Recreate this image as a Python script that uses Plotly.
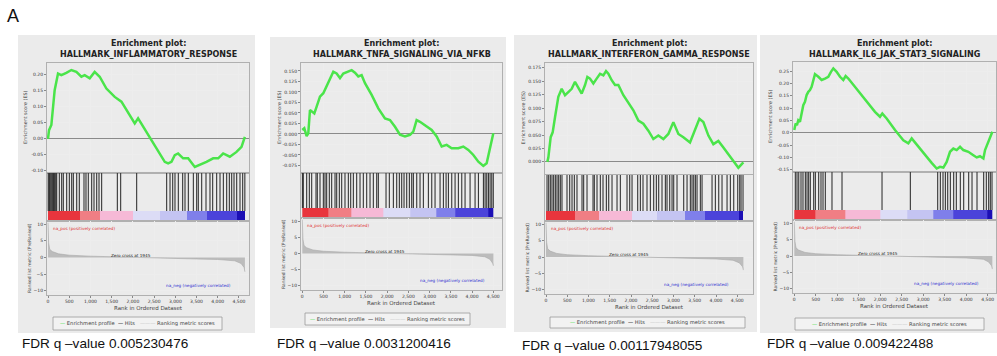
import plotly.graph_objects as go

W, H = 997, 356

# ---------------- data ----------------
panel_titles = ["HALLMARK_INFLAMMATORY_RESPONSE", "HALLMARK_TNFA_SIGNALING_VIA_NFKB",
                "HALLMARK_INTERFERON_GAMMA_RESPONSE", "HALLMARK_IL6_JAK_STAT3_SIGNALING"]
fdr_values = ["0.005230476", "0.0031200416", "0.00117948055", "0.009422488"]

x_ticks = [0, 500, 1000, 1500, 2000, 2500, 3000, 3500, 4000, 4500]
x_ticktext = ["0", "500", "1,000", "1,500", "2,000", "2,500", "3,000", "3,500", "4,000", "4,500"]
metric_ticks = [-10, -5, 0, 5, 10]

es_ticks_1 = [-0.10, -0.05, 0.00, 0.05, 0.10, 0.15, 0.20]
es_ticktext_1 = ["-0.10", "-0.05", "0.00", "0.05", "0.10", "0.15", "0.20"]
es_ticks_2 = [-0.075, -0.05, -0.025, 0.0, 0.025, 0.05, 0.075, 0.10, 0.125, 0.15]
es_ticktext_2 = ["-0.075", "-0.050", "-0.025", "0.000", "0.025", "0.050", "0.075", "0.100", "0.125", "0.150"]
es_ticks_3 = [0.0, 0.025, 0.05, 0.075, 0.10, 0.125, 0.15, 0.175]
es_ticktext_3 = ["0.000", "0.025", "0.050", "0.075", "0.100", "0.125", "0.150", "0.175"]
es_ticks_4 = [-0.15, -0.10, -0.05, 0.0, 0.05, 0.10, 0.15, 0.20, 0.25]
es_ticktext_4 = ["-0.15", "-0.10", "-0.05", "0.0", "0.05", "0.10", "0.15", "0.20", "0.25"]

es_rank_1 = [0, 24, 79, 157, 236, 314, 432, 550, 668, 786, 865, 983, 1100, 1218, 1376, 1572, 1730,
             1926, 2044, 2123, 2241, 2437, 2594, 2751, 2830, 2909, 2987, 3066, 3184, 3302, 3459,
             3577, 3734, 3892, 4010, 4127, 4285, 4442, 4560, 4638]
es_val_1 = [0.000, 0.027, 0.043, 0.152, 0.204, 0.199, 0.206, 0.215, 0.209, 0.194, 0.199, 0.189,
            0.209, 0.194, 0.157, 0.131, 0.116, 0.074, 0.048, 0.064, 0.038, -0.004, -0.041, -0.072,
            -0.077, -0.072, -0.051, -0.046, -0.061, -0.061, -0.088, -0.082, -0.072, -0.061, -0.061,
            -0.046, -0.056, -0.041, -0.025, 0.006]

es_rank_2 = [0, 47, 102, 141, 181, 220, 283, 338, 416, 495, 573, 652, 731, 809, 888, 966, 1045,
             1163, 1241, 1320, 1398, 1477, 1634, 1791, 1948, 2066, 2184, 2302, 2419, 2537, 2616,
             2694, 2773, 2891, 3048, 3166, 3284, 3402, 3519, 3676, 3794, 3912, 4030, 4148, 4266,
             4344, 4399, 4462, 4501]
es_val_2 = [0.0095, 0.0135, -0.005, 0.0016, 0.057, 0.053, 0.049, 0.065, 0.089, 0.097, 0.113,
            0.129, 0.148, 0.144, 0.133, 0.144, 0.148, 0.152, 0.146, 0.137, 0.140, 0.121, 0.093,
            0.061, 0.037, 0.033, 0.017, -0.002, -0.006, -0.002, 0.0056, 0.033, 0.029, 0.021,
            0.0095, -0.006, -0.030, -0.026, -0.034, -0.034, -0.030, -0.038, -0.050, -0.066,
            -0.076, -0.070, -0.046, -0.022, 0.0016]

es_rank_3 = [31, 55, 110, 157, 212, 290, 369, 447, 525, 604, 682, 761, 839, 918, 973, 1035, 1114,
             1192, 1271, 1349, 1412, 1467, 1545, 1624, 1702, 1820, 1937, 2055, 2173, 2290, 2408,
             2525, 2643, 2761, 2878, 2996, 3114, 3231, 3388, 3506, 3608, 3702, 3820, 3937, 4055,
             4173, 4290, 4408, 4525, 4604, 4643]
es_val_3 = [0.000, 0.008, 0.046, 0.055, 0.083, 0.121, 0.136, 0.124, 0.130, 0.136, 0.149, 0.139,
            0.127, 0.143, 0.158, 0.155, 0.146, 0.155, 0.164, 0.161, 0.169, 0.164, 0.152, 0.143,
            0.143, 0.124, 0.111, 0.096, 0.077, 0.071, 0.058, 0.0425, 0.049, 0.0425, 0.052, 0.074,
            0.052, 0.046, 0.036, 0.058, 0.080, 0.074, 0.049, 0.033, 0.039, 0.027, 0.014, 0.002,
            -0.011, -0.004, -0.001]

es_rank_4 = [0, 31, 62, 93, 132, 171, 209, 248, 287, 326, 365, 403, 442, 481, 559, 636, 714, 791,
             853, 908, 985, 1063, 1140, 1195, 1257, 1412, 1567, 1722, 1877, 1994, 2048, 2149, 2343,
             2537, 2653, 2731, 2886, 3041, 3196, 3313, 3390, 3468, 3545, 3623, 3700, 3778, 3856,
             3933, 4050, 4166, 4244, 4321, 4399, 4438, 4515, 4608]
es_val_4 = [0.011, 0.038, 0.031, 0.051, 0.045, 0.078, 0.112, 0.126, 0.153, 0.166, 0.173, 0.186,
            0.214, 0.238, 0.227, 0.214, 0.220, 0.227, 0.247, 0.261, 0.247, 0.227, 0.214, 0.230,
            0.220, 0.186, 0.153, 0.119, 0.085, 0.065, 0.078, 0.058, 0.011, -0.030, -0.043, -0.023,
            -0.057, -0.091, -0.122, -0.145, -0.138, -0.141, -0.118, -0.077, -0.064, -0.070,
            -0.057, -0.070, -0.077, -0.091, -0.100, -0.095, -0.104, -0.070, -0.036, 0.004]

hits_1 = [5, 20, 35, 50, 70, 90, 110, 130, 150, 170, 190, 205, 267, 322, 361, 440, 503, 558, 597,
          676, 738, 848, 895, 950, 1029, 1084, 1147, 1202, 1264, 1634, 1712, 2089, 2796, 2875,
          2938, 2992, 3071, 3173, 3228, 3307, 3425, 3503, 3542, 3621, 3723, 3817, 3880, 3974,
          4053, 4132, 4210, 4273, 4328, 4383, 4446, 4524, 4587, 4638]
hits_2 = [3, 24, 103, 166, 221, 323, 354, 417, 496, 535, 574, 637, 692, 771, 810, 873, 928, 1006,
          1085, 1140, 1203, 1281, 1360, 1438, 1517, 1596, 1674, 1753, 1792, 1973, 2051, 2146,
          2224, 2287, 2342, 2397, 2460, 2523, 2578, 2617, 2696, 2774, 2853, 2971, 3050, 3128,
          3246, 3325, 3388, 3443, 3521, 3600, 3678, 3757, 3835, 3953, 4071, 4150, 4268, 4307,
          4346, 4386, 4425, 4464, 4500]
hits_3 = [24, 63, 102, 141, 180, 220, 259, 298, 337, 376, 494, 557, 612, 667, 729, 847, 886, 965,
          1106, 1137, 1200, 1278, 1341, 1420, 1475, 1553, 1671, 1749, 1906, 1969, 2024, 2157,
          2220, 2282, 2376, 2455, 2533, 2596, 2651, 2729, 2808, 2847, 2910, 2965, 3004, 3082,
          3239, 3318, 3396, 3435, 3475, 3514, 3553, 3631, 3671, 3906, 3984, 4063, 4141, 4259,
          4337, 4416, 4510, 4557, 4588, 4635]
hits_4 = [24, 63, 103, 156, 202, 257, 296, 334, 373, 451, 490, 567, 621, 668, 722, 877, 1110,
          2041, 2700, 3336, 3398, 3460, 3515, 3569, 3631, 3708, 3770, 3863, 3941, 4057, 4135,
          4251, 4406, 4468, 4522, 4561, 4600]

cb_colors = ["#e8353d", "#f07e84", "#f6b9d6", "#dcdcf6", "#c4c4f2", "#7f7fea", "#4b43da", "#1c0fb5"]
cb_edges_1 = [0, 754, 1225, 2011, 2640, 3268, 3739, 4446, 4642]
cb_edges_2 = [0, 613, 1163, 1910, 2538, 3165, 3600, 4385, 4503]
cb_edges_3 = [0, 690, 1239, 2024, 2612, 3278, 3749, 4533, 4643]
cb_edges_4 = [0, 490, 1187, 2002, 2623, 3243, 3708, 4483, 4608]

metric_rank_1 = [0, 5, 15, 40, 100, 250, 500, 1000, 1500, 1945, 2500, 3000, 3500, 4000, 4400, 4550, 4620, 4640]
metric_val_1 = [10.5, 7.0, 4.5, 2.5, 1.8, 1.1, 0.7, 0.4, 0.2, 0.0, -0.15, -0.3, -0.45, -0.6, -1.0, -1.8, -3.0, -4.3]
metric_rank_2 = [0, 5, 15, 40, 100, 250, 500, 1000, 1500, 1945, 2500, 3000, 3500, 4000, 4300, 4420, 4485, 4503]
metric_val_2 = [10.5, 7.0, 4.5, 2.5, 1.8, 1.1, 0.7, 0.4, 0.2, 0.0, -0.15, -0.3, -0.45, -0.6, -1.0, -1.8, -3.0, -3.8]
metric_rank_3 = [0, 5, 15, 40, 100, 250, 500, 1000, 1500, 1945, 2500, 3000, 3500, 4000, 4400, 4550, 4625, 4643]
metric_val_3 = [10.5, 7.0, 4.5, 2.5, 1.8, 1.1, 0.7, 0.4, 0.2, 0.0, -0.15, -0.3, -0.45, -0.6, -1.0, -1.8, -3.0, -4.0]
metric_rank_4 = [0, 5, 15, 40, 100, 250, 500, 1000, 1500, 1945, 2500, 3000, 3500, 4000, 4400, 4520, 4590, 4608]
metric_val_4 = [10.5, 7.0, 4.5, 2.5, 1.8, 1.1, 0.7, 0.4, 0.2, 0.0, -0.15, -0.3, -0.45, -0.6, -1.0, -1.8, -3.0, -4.0]

zero_cross = 1945

# ---------------- geometry (pixels) ----------------
geo = [
    dict(L=47, R=249, zero=48.0, scale=0.04244, es_top=63, es_bot=173, strip_top=173, strip_bot=221,
         met_bot=295, box=(18, 255, 35, 333), leg=(53, 222, 317, 330), fdr=(20, 343), es_rng=(-0.107, 0.237)),
    dict(L=301, R=502, zero=302.3, scale=0.04244, es_top=63, es_bot=173, strip_top=173, strip_bot=218,
         met_bot=290, box=(270, 506, 37, 328), leg=(305, 470, 313, 325), fdr=(275, 343), es_rng=(-0.093, 0.169)),
    dict(L=545, R=753, zero=546.0, scale=0.04251, es_top=63, es_bot=174, strip_top=175, strip_bot=221,
         met_bot=294, box=(514, 757, 35, 332), leg=(550, 745, 317, 328), fdr=(520, 345), es_rng=(-0.0225, 0.184)),
    dict(L=793, R=996, zero=794.3, scale=0.04298, es_top=62, es_bot=172, strip_top=172, strip_bot=220,
         met_bot=293, box=(760, 997, 35, 333), leg=(795, 984, 318, 330), fdr=(765, 343), es_rng=(-0.159, 0.287)),
]

es_ranks = [es_rank_1, es_rank_2, es_rank_3, es_rank_4]
es_vals = [es_val_1, es_val_2, es_val_3, es_val_4]
es_ticks = [es_ticks_1, es_ticks_2, es_ticks_3, es_ticks_4]
es_ticktexts = [es_ticktext_1, es_ticktext_2, es_ticktext_3, es_ticktext_4]
hits = [hits_1, hits_2, hits_3, hits_4]
cb_edges = [cb_edges_1, cb_edges_2, cb_edges_3, cb_edges_4]
metric_ranks = [metric_rank_1, metric_rank_2, metric_rank_3, metric_rank_4]
metric_vals = [metric_val_1, metric_val_2, metric_val_3, metric_val_4]

FONT = "DejaVu Sans"
GREEN = "#4ae44a"


def fx(x):
    return x / W


def fy(y):
    return 1 - y / H


def ann(text, x, y, xref="paper", yref="paper", xanchor="center", size=5, color="#333",
        family=FONT, angle=0):
    return dict(text=text, x=x, y=y, xref=xref, yref=yref, xanchor=xanchor, yanchor="middle",
                showarrow=False, textangle=angle, font=dict(size=size, family=family, color=color))


fig = go.Figure()
shapes = []
annotations = []
axes = {}

cb_scale = []
for k, c in enumerate(cb_colors):
    cb_scale.append([k / len(cb_colors), c])
    cb_scale.append([(k + 1) / len(cb_colors), c])


def names(n):
    return ("xaxis" if n == 1 else f"xaxis{n}", "yaxis" if n == 1 else f"yaxis{n}",
            "x" if n == 1 else f"x{n}", "y" if n == 1 else f"y{n}")


frame = dict(showline=True, mirror=True, linecolor="#b0b0b0", linewidth=1)
tickstyle = dict(ticks="outside", ticklen=2, tickcolor="#888",
                 tickfont=dict(size=4.5, family=FONT, color="#333"))

for i in range(4):
    g = geo[i]
    xr = [(g["L"] - g["zero"]) / g["scale"], (g["R"] - g["zero"]) / g["scale"]]
    xd = [fx(g["L"]), fx(g["R"])]
    n_es, n_st, n_me = 3 * i + 1, 3 * i + 2, 3 * i + 3

    # panel background
    bx0, bx1, by0, by1 = g["box"]
    shapes.append(dict(type="rect", xref="paper", yref="paper", x0=fx(bx0), x1=fx(bx1),
                       y0=fy(by1), y1=fy(by0), fillcolor="#ebebeb", line=dict(width=0), layer="below"))

    # ---- ES plot
    xa, ya, xt, yt = names(n_es)
    fig.add_trace(go.Scatter(x=es_ranks[i], y=es_vals[i], mode="lines",
                             line=dict(color=GREEN, width=2.5), xaxis=xt, yaxis=yt, hoverinfo="skip"))
    axes[xa] = dict(domain=xd, range=xr, anchor=yt, tickvals=x_ticks, showticklabels=False, ticks="",
                    showgrid=True, gridcolor="#ededed", gridwidth=1, zeroline=False, **frame)
    axes[ya] = dict(domain=[fy(g["es_bot"]), fy(g["es_top"])], range=list(g["es_rng"]), anchor=xt,
                    tickvals=es_ticks[i], ticktext=es_ticktexts[i], **tickstyle,
                    showgrid=True, gridcolor="#ededed", zeroline=True, zerolinecolor="#8a8a8a",
                    zerolinewidth=1, **frame)

    # ---- hits + colour bar strip
    xa, ya, xt, yt = names(n_st)
    hits_px = g["strip_bot"] - 10 - g["strip_top"]
    cb_lo = -10 / hits_px
    hx, hy = [], []
    for h in hits[i]:
        hx += [h, h, None]
        hy += [0, 1, None]
    fig.add_trace(go.Scatter(x=hx, y=hy, mode="lines", line=dict(color="#353535", width=1.1),
                             xaxis=xt, yaxis=yt, hoverinfo="skip"))
    fig.add_trace(go.Heatmap(x=cb_edges[i], y=[cb_lo, 0], z=[list(range(len(cb_colors)))],
                             colorscale=cb_scale, zmin=-0.5, zmax=len(cb_colors) - 0.5,
                             showscale=False, xaxis=xt, yaxis=yt, hoverinfo="skip"))
    axes[xa] = dict(domain=xd, range=xr, anchor=yt, showticklabels=False, ticks="", showgrid=False,
                    zeroline=False, **frame)
    axes[ya] = dict(domain=[fy(g["strip_bot"]), fy(g["strip_top"])], range=[cb_lo, 1], anchor=xt,
                    showticklabels=False, ticks="", showgrid=False, zeroline=False, **frame)

    # ---- ranked list metric
    xa, ya, xt, yt = names(n_me)
    fig.add_trace(go.Scatter(x=metric_ranks[i], y=metric_vals[i], mode="lines", fill="tozeroy",
                             fillcolor="#bcbcbc", line=dict(color="#a8a8a8", width=0.6),
                             xaxis=xt, yaxis=yt, hoverinfo="skip"))
    axes[xa] = dict(domain=xd, range=xr, anchor=yt, tickvals=x_ticks, ticktext=x_ticktext, **tickstyle,
                    showgrid=True, gridcolor="#ededed", zeroline=False, **frame)
    axes[ya] = dict(domain=[fy(g["met_bot"]), fy(g["strip_bot"])], range=[-11.3, 11], anchor=xt,
                    tickvals=metric_ticks, **tickstyle,
                    showgrid=True, gridcolor="#ededed", zeroline=False, **frame)

    cx = (g["L"] + g["R"]) / 2
    annotations.append(ann("<b>Enrichment plot:</b>", fx(cx), fy(43), size=8, color="#222"))
    annotations.append(ann("<b>" + panel_titles[i] + "</b>", fx(cx), fy(55), size=8, color="#222"))
    annotations.append(ann("Enrichment score (ES)", fx(g["L"] - 22), fy((g["es_top"] + g["es_bot"]) / 2),
                           size=4.8, color="#444", angle=-90))
    annotations.append(ann("Ranked list metric (PreRanked)", fx(g["L"] - 18),
                           fy((g["strip_bot"] + g["met_bot"]) / 2), size=4.5, color="#444", angle=-90))
    annotations.append(ann("Rank in Ordered Dataset", fx(cx), fy(g["met_bot"] + 13), size=5.5, color="#444"))
    annotations.append(ann("na_pos (positively correlated)", 60, 8.6, xref=xt, yref=yt, xanchor="left",
                           size=4.2, color="#e03030"))
    annotations.append(ann("na_neg (negatively correlated)", 4350, -8.3, xref=xt, yref=yt, xanchor="right",
                           size=4.2, color="#3030d0"))
    annotations.append(ann("Zero cross at " + str(zero_cross), zero_cross, 0.7, xref=xt, yref=yt,
                           size=4.2, color="#222"))
    # legend box
    lx0, lx1, ly0, ly1 = g["leg"]
    shapes.append(dict(type="rect", xref="paper", yref="paper", x0=fx(lx0), x1=fx(lx1), y0=fy(ly1), y1=fy(ly0),
                       fillcolor="#f2f2f2", line=dict(color="#9a9a9a", width=0.8), layer="above"))
    leg_html = ('<span style="color:#45e045">—</span> Enrichment profile  '
                '<span style="color:#000000">—</span> Hits   '
                '<span style="color:#c8c8c8">———</span> Ranking metric scores')
    annotations.append(ann(leg_html, fx((lx0 + lx1) / 2), fy((ly0 + ly1) / 2), size=5.2, color="#444"))
    annotations.append(ann("FDR q \u2013value " + fdr_values[i], fx(g["fdr"][0]), fy(g["fdr"][1]),
                           xanchor="left", size=13.6, color="#111", family="Liberation Sans, Arial"))

annotations.append(ann("A", fx(5), fy(16), xanchor="left", size=18, color="#111",
                       family="Liberation Sans, Arial"))

fig.update_layout(width=W, height=H, autosize=False, margin=dict(l=0, r=0, t=0, b=0, pad=0),
                  paper_bgcolor="white", plot_bgcolor="white", showlegend=False,
                  shapes=shapes, annotations=annotations, **axes)

fig.write_html("out.html", config={"displayModeBar": False},
               post_script="document.body.style.margin='0';")
